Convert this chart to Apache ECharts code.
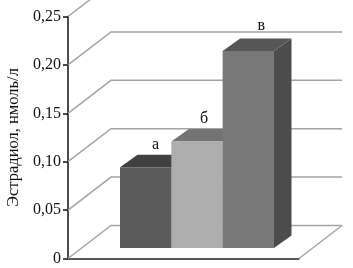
<!DOCTYPE html>
<html>
<head>
<meta charset="utf-8">
<style>html,body{margin:0;padding:0;background:#fff}#c{width:353px;height:268px}</style>
<script src="https://cdn.jsdelivr.net/npm/echarts@6/dist/echarts.min.js"></script>
</head>
<body>
<div id="c"></div>
<script>
var categories = ['а', 'б', 'в'];
var values = [0.0834, 0.110, 0.2035];
var yTicks = [0, 0.05, 0.10, 0.15, 0.20, 0.25];
var yName = 'Эстрадиол, нмоль/л';

var frontColors = ['#5b5b5b', '#adadad', '#787878'];
var topColors = ['#414141', '#747474', '#565656'];
var sideColors = ['#414141', '#747474', '#4c4c4c'];
var labelOffsets = [[10, -22], [7, -23], [13, -25]];
var FONT = '"Liberation Serif", serif';
var WALL = { dx: 43, dy: -33 };
var BAR = { dx: 17.5, dy: -12.5 };
var GRID_COLOR = '#a4a4a4';

var chart = echarts.init(document.getElementById('c'), null, { renderer: 'canvas' });

function renderWall(params, api) {
  var v = api.value(0);
  var r = params.coordSys;
  var y = api.coord([0, v])[1];
  var lw = { stroke: GRID_COLOR, lineWidth: 1.5, fill: null };
  var backRight = r.x + r.width + WALL.dx;
  var kids = [{
    type: 'polyline',
    shape: { points: [[r.x, y], [r.x + WALL.dx, y + WALL.dy], [backRight, y + WALL.dy]] },
    style: lw
  }];
  if (v === 0) {
    kids.push({
      type: 'line',
      shape: { x1: r.x + r.width, y1: y, x2: backRight, y2: y + WALL.dy },
      style: lw
    });
  }
  return { type: 'group', children: kids };
}

function renderBar(params, api) {
  var i = params.dataIndex;
  var top = api.coord([i, api.value(1)]);
  var base = api.coord([i, 0]);
  var w = api.size([1, 0])[0];
  var l = top[0] - w / 2, rr = top[0] + w / 2, t = top[1], b = base[1];
  var d = BAR;
  return {
    type: 'group',
    children: [
      { type: 'polygon', shape: { points: [[rr, t], [rr + d.dx, t + d.dy], [rr + d.dx, b + d.dy], [rr, b]] }, style: { fill: sideColors[i] } },
      { type: 'polygon', shape: { points: [[l, t], [rr, t], [rr + d.dx, t + d.dy], [l + d.dx, t + d.dy]] }, style: { fill: topColors[i] } },
      { type: 'rect', shape: { x: l, y: t, width: w, height: b - t }, style: { fill: frontColors[i] } },
      { type: 'text', x: top[0] + labelOffsets[i][0], y: t + labelOffsets[i][1],
        style: { text: categories[i], fill: '#111', font: '16px ' + FONT, align: 'center', verticalAlign: 'middle' } }
    ]
  };
}

chart.setOption({
  animation: false,
  backgroundColor: '#fff',
  grid: [
    { left: 68, top: 16.5, width: 231, height: 242, outerBoundsMode: 'none' },
    { left: 120, top: 6, width: 154, height: 242, outerBoundsMode: 'none' }
  ],
  xAxis: [
    { gridIndex: 0, type: 'category', data: [''], axisTick: { show: false }, axisLabel: { show: false },
      axisLine: { lineStyle: { color: '#222', width: 1.5 } } },
    { gridIndex: 1, type: 'category', data: categories, show: false }
  ],
  yAxis: [
    { gridIndex: 0, type: 'value', min: 0, max: 0.25, interval: 0.05,
      name: yName, nameLocation: 'middle', nameGap: 44, nameRotate: 90,
      nameTextStyle: { fontFamily: FONT, fontSize: 16.5, color: '#111' },
      splitLine: { show: false },
      axisLine: { show: true, onZero: false, lineStyle: { color: '#111', width: 1.5 } },
      axisTick: { show: true, length: 5, lineStyle: { color: '#111', width: 1.5 } },
      axisLabel: { fontFamily: FONT, fontSize: 16, color: '#111', margin: 7,
        formatter: function (v) { return v === 0 ? '0' : v.toFixed(2).replace('.', ','); } } },
    { gridIndex: 1, type: 'value', min: 0, max: 0.25, show: false, splitLine: { show: false } }
  ],
  series: [
    { type: 'custom', xAxisIndex: 0, yAxisIndex: 0, z: 1, silent: true,
      encode: { y: 0 }, data: yTicks.map(function (v) { return [v]; }), renderItem: renderWall },
    { type: 'custom', xAxisIndex: 1, yAxisIndex: 1, z: 2, silent: true,
      encode: { x: 0, y: 1 }, data: values.map(function (v, i) { return [i, v]; }), renderItem: renderBar }
  ]
});
</script>
</body>
</html>
